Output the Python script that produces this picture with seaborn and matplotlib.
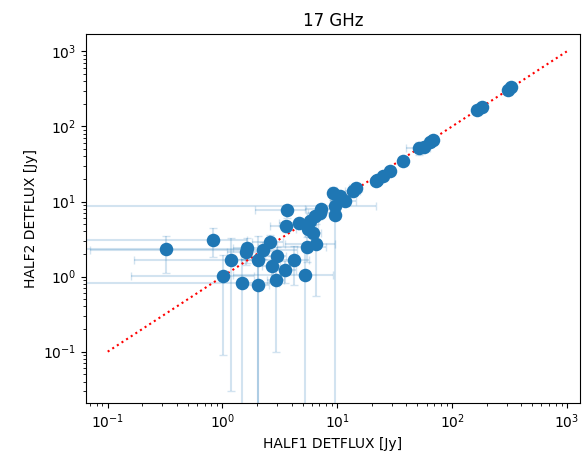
import numpy as np
import matplotlib
matplotlib.use("Agg")
import matplotlib.pyplot as plt
import seaborn as sns
import pandas as pd

# flux densities from the two halves [Jy]
half1 = [0.32, 0.82, 1.02, 1.18, 1.48, 1.63, 1.60, 2.05, 2.05, 2.27,
         2.60, 2.70, 2.97, 2.93, 3.53, 3.63, 3.58, 4.20, 4.60, 5.24,
         5.60, 6.20, 5.80, 5.50, 6.50, 6.40, 7.10, 7.20, 9.57, 9.60,
         9.25, 10.5, 11.7, 13.8, 14.6, 21.8, 22.1, 25.2, 28.8, 37.7,
         52.0, 57.0, 64.4, 68.0, 164.0, 182.0, 310.0, 327.0]
half2 = [2.30, 3.10, 1.01, 1.65, 0.82, 2.41, 2.13, 0.78, 1.65, 2.29,
         2.90, 1.37, 1.86, 0.91, 1.21, 7.60, 4.70, 1.68, 5.20, 1.04,
         4.30, 3.80, 5.45, 2.45, 2.75, 6.35, 7.05, 8.00, 6.70, 8.60,
         13.0, 12.0, 10.1, 13.7, 15.2, 19.0, 19.6, 22.1, 25.3, 35.0,
         51.7, 54.0, 63.0, 66.7, 167.0, 182.0, 309.0, 335.0]
half1_err = [1.30, 0.80, 0.86, 1.01, 1.60, 0.40, 0.50, 0.50, 0.60, 2.20,
             0.80, 0.50, 0.60, 0.50, 0.80, 1.70, 1.00, 1.50, 1.50, 4.00,
             1.20, 1.00, 1.00, 2.50, 3.00, 1.00, 1.50, 2.00, 1.00, 12.0,
             1.00, 1.00, 3.00, 2.00, 2.00, 2.00, 1.50, 2.00, 2.00, 1.50,
             12.0, 3.00, 4.00, 4.00, 5.00, 5.00, 8.00, 8.00]
half2_err = [1.20, 1.30, 0.92, 1.62, 0.90, 0.90, 0.70, 0.90, 1.80, 0.60,
             0.70, 0.50, 0.60, 0.81, 0.40, 1.50, 0.80, 0.90, 0.70, 1.20,
             0.80, 1.00, 0.80, 0.90, 2.20, 1.00, 1.00, 1.00, 7.00, 2.00,
             2.50, 2.00, 1.50, 2.00, 2.00, 2.00, 1.50, 2.00, 2.00, 1.50,
             10.0, 3.00, 4.00, 4.00, 5.00, 5.00, 8.00, 8.00]

one_to_one = [0.1, 1000]

df = pd.DataFrame({'half1': half1, 'half2': half2})

fig, ax = plt.subplots(figsize=(5.83, 4.59), dpi=100)
fig.subplots_adjust(left=0.1475, right=0.995, top=0.926, bottom=0.122)

ax.set_xscale('log')
ax.set_yscale('log')

ax.errorbar(half1, half2, xerr=half1_err, yerr=half2_err, fmt='none',
            ecolor='C0', alpha=0.2, capsize=3, zorder=1)
sns.scatterplot(data=df, x='half1', y='half2', ax=ax, color='C0',
                s=95, linewidth=0, zorder=3)
ax.plot(one_to_one, one_to_one, 'r:', zorder=2)

ax.set_xlim(0.0647, 1306)
ax.set_ylim(0.0207, 1708)
ax.set_title('17 GHz')
ax.set_xlabel('HALF1 DETFLUX [Jy]')
ax.set_ylabel('HALF2 DETFLUX [Jy]')

plt.savefig('out.png')
